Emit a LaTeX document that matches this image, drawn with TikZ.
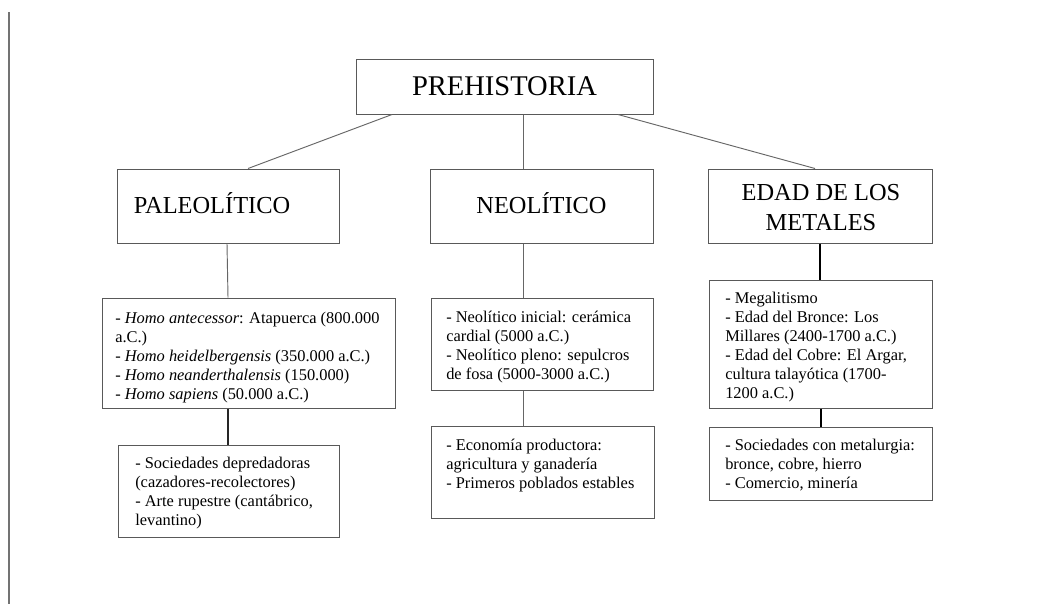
\documentclass[tikz,border=0pt]{standalone}
\usepackage{fontspec}
\setmainfont{Liberation Serif}
\usetikzlibrary{fit}
\begin{document}
\begin{tikzpicture}[x=0.75pt,y=-0.75pt,
  box/.style={draw=black!65, line width=0.75pt, rectangle, inner sep=0pt},
  ttlone/.style={inner sep=0pt, font=\fontsize{21.4pt}{25pt}\selectfont},
  ttltwo/.style={inner sep=0pt, font=\fontsize{18.3pt}{22.5pt}\selectfont},
  body/.style={inner sep=0pt, anchor=north west, align=left, font=\fontsize{12.3pt}{14.25pt}\selectfont},
  conn/.style={draw=black!60, line width=0.7pt},
  connd/.style={draw=black!85, line width=1.1pt},
  connb/.style={draw=black, line width=1.5pt}]
\useasboundingbox (0,0) rectangle (1059,604);
\fill[white] (0,0) rectangle (1059,604);
\coordinate (L1) at (9,12);
\coordinate (L2) at (9,604);
\draw[draw=black!55, line width=0.9pt] (L1) -- (L2);

% level 1
\node[box, fit={(356,59) (653,114)}] (P) {};
\node[ttlone] (Pt) at (504.5,86.5) {PREHISTORIA};

% level 2
\node[box, fit={(117,169) (339,243)}] (Pal) {};
\node[ttltwo, anchor=base] (Palt) at (212,213) {PALEOLÍTICO};
\node[box, fit={(430,169) (653,243)}] (Neo) {};
\node[ttltwo, anchor=base] (Neot) at (541.5,213) {NEOLÍTICO};
\node[box, fit={(708,169) (932,243)}] (Met) {};
\node[ttltwo, anchor=north, align=center] (Mett) at (821,180) {\rule{0pt}{15pt}EDAD DE LOS\\METALES};

% level 3
\node[box, fit={(102,298) (395,408)}] (PalD) {};
\node[body] (PalDt) at (115,310.3) {\rule{0pt}{9.5pt}- \textit{Homo antecessor}: Atapuerca (800.000\\a.C.)\\- \textit{Homo heidelbergensis} (350.000 a.C.)\\- \textit{Homo neanderthalensis} (150.000)\\- \textit{Homo sapiens} (50.000 a.C.)};
\node[box, fit={(431,298) (653,390)}] (NeoD) {};
\node[body] (NeoDt) at (446,309.3) {\rule{0pt}{9.5pt}- Neolítico inicial: cerámica\\cardial (5000 a.C.)\\- Neolítico pleno: sepulcros\\de fosa (5000-3000 a.C.)};
\node[box, fit={(709,280) (932,408)}] (MetD) {};
\node[body] (MetDt) at (725,290.3) {\rule{0pt}{9.5pt}- Megalitismo\\- Edad del Bronce: Los\\Millares (2400-1700 a.C.)\\- Edad del Cobre: El Argar,\\cultura talayótica (1700-\\1200 a.C.)};

% level 4
\node[box, fit={(118,445) (339,537)}] (PalB) {};
\node[body] (PalBt) at (135,455.3) {\rule{0pt}{9.5pt}- Sociedades depredadoras\\(cazadores-recolectores)\\- Arte rupestre (cantábrico,\\levantino)};
\node[box, fit={(431,426) (654,518)}] (NeoB) {};
\node[body] (NeoBt) at (446,437.3) {\rule{0pt}{9.5pt}- Economía productora:\\agricultura y ganadería\\- Primeros poblados estables};
\node[box, fit={(709,427) (932,500)}] (MetB) {};
\node[body] (MetBt) at (725,437.3) {\rule{0pt}{9.5pt}- Sociedades con metalurgia:\\bronce, cobre, hierro\\- Comercio, minería};

% connectors
\draw[conn] (392,0 |- P.south) -- (248,0 |- Pal.north);
\draw[conn] (523,0 |- P.south) -- (523,0 |- Neo.north);
\draw[conn] (618,0 |- P.south) -- (815,0 |- Met.north);
\draw[conn] (227,0 |- Pal.south) -- (228,0 |- PalD.north);
\draw[conn] (523,0 |- Neo.south) -- (523,0 |- NeoD.north);
\draw[connb] (820,0 |- Met.south) -- (820,0 |- MetD.north);
\draw[connd] (228,0 |- PalD.south) -- (228,0 |- PalB.north);
\draw[conn] (523,0 |- NeoD.south) -- (523,0 |- NeoB.north);
\draw[connb] (821,0 |- MetD.south) -- (821,0 |- MetB.north);
\end{tikzpicture}
\end{document}
